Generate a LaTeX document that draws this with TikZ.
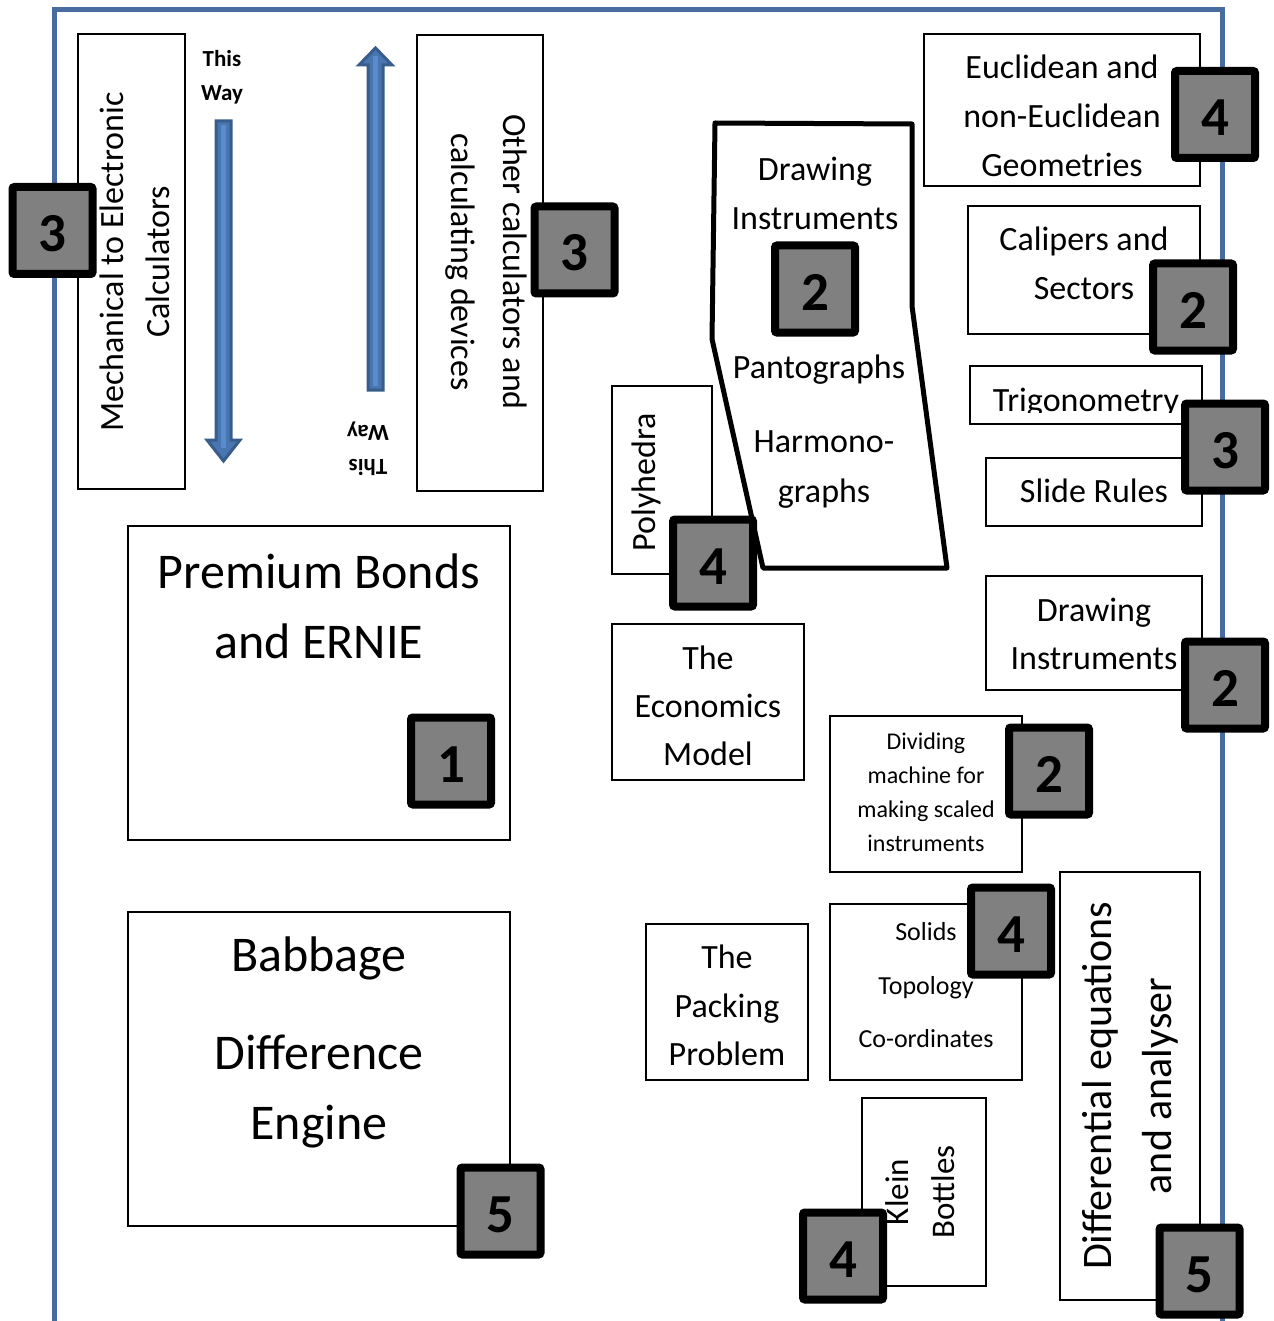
\documentclass[tikz,border=0pt]{standalone}
\usepackage{fontspec}
\setmainfont{Carlito}
\definecolor{framecol}{RGB}{72,108,160}
\definecolor{arrowfill}{RGB}{72,118,176}
\definecolor{arrowlight}{RGB}{88,140,204}
\definecolor{arrowline}{RGB}{56,93,138}
\definecolor{badgegray}{RGB}{128,128,128}
\tikzset{
  frameline/.style={draw=framecol, line width=5pt},
  boxnode/.style={draw=black, line width=1.2pt, fill=white, inner sep=0pt},
  badge/.style={draw=black, fill=badgegray, line width=8pt, rounded corners=2pt,
    minimum width=80pt, minimum height=87pt, inner sep=0pt,
    text height=42pt, text depth=0pt,
    font=\fontsize{55}{55}\selectfont\bfseries},
  lbl/.style={align=center, inner sep=0pt},
  bluearrow/.style={fill=arrowfill, draw=arrowline, line width=3pt, line join=miter},
  arrowstripe/.style={draw=arrowlight, line width=5pt},
  polyline/.style={draw=black, line width=5pt, fill=white, line join=round}
}
\begin{document}
\begin{tikzpicture}[x=1pt,y=-1pt]
\useasboundingbox (0,0) rectangle (1273,1321);
% frame
\coordinate (fbl) at (54,1340);
\coordinate (ftl) at (54,10);
\coordinate (ftr) at (1222,10);
\coordinate (fbr) at (1222,1340);
\draw[frameline] (fbl) -- (ftl) -- (ftr) -- (fbr);

% boxes
\node[boxnode, minimum width=107pt, minimum height=455pt] (mech) at (131.5,261.5) {};
\node[boxnode, minimum width=126pt, minimum height=456pt] (other) at (480,263) {};
\node[boxnode, minimum width=382pt, minimum height=314pt] (premium) at (319,683) {};
\node[boxnode, minimum width=382pt, minimum height=314pt] (babbage) at (319,1069) {};
\node[boxnode, minimum width=276pt, minimum height=152pt] (euclid) at (1062,110) {};
\node[boxnode, minimum width=232pt, minimum height=128pt] (calipers) at (1084,270) {};
\node[boxnode, minimum width=232pt, minimum height=58pt] (trig) at (1086,395) {};
\node[boxnode, minimum width=216pt, minimum height=68pt] (slide) at (1094,492) {};
\node[boxnode, minimum width=100pt, minimum height=188pt] (polyh) at (662,480) {};
\node[boxnode, minimum width=192pt, minimum height=156pt] (econ) at (708,702) {};
\node[boxnode, minimum width=216pt, minimum height=114pt] (draw2) at (1094,633) {};
\node[boxnode, minimum width=192pt, minimum height=156pt] (divid) at (926,794) {};
\node[boxnode, minimum width=162pt, minimum height=156pt] (packing) at (727,1002) {};
\node[boxnode, minimum width=192pt, minimum height=176pt] (solids) at (926,992) {};
\node[boxnode, minimum width=124pt, minimum height=188pt] (klein) at (924,1192) {};
\node[boxnode, minimum width=140pt, minimum height=428pt] (diff) at (1130,1086) {};

% drawing instruments polygon
\coordinate (p1) at (715,123);
\coordinate (p2) at (912,124);
\coordinate (p3) at (912,306);
\coordinate (p4) at (947,568);
\coordinate (p5) at (763,568);
\coordinate (p6) at (712,339);
\draw[polyline] (p1) -- (p2) -- (p3) -- (p4) -- (p5) -- (p6) -- cycle;

% arrows
\draw[bluearrow] (216,121) -- (231,121) -- (231,440) -- (240,440) -- (223.5,461) -- (207,440) -- (216,440) -- cycle;
\draw[arrowstripe] (223.5,125) -- (223.5,448);
\draw[bluearrow] (368,390) -- (383,390) -- (383,65) -- (392,65) -- (375.5,48) -- (359,65) -- (368,65) -- cycle;
\draw[arrowstripe] (375.5,386) -- (375.5,56);

% badges
\node[badge] (b3a) at (52.5,230.5) {3};
\node[badge] (b3b) at (574.5,250) {3};
\node[badge] (b1) at (451,761) {1};
\node[badge] (b5a) at (500.5,1211) {5};
\node[badge] (b2poly) at (815,289) {2};
\node[badge] (b4euc) at (1215,114.5) {4};
\node[badge] (b2cal) at (1193,307) {2};
\node[badge] (b3trig) at (1225,447) {3};
\node[badge] (b4poly) at (713,563) {4};
\node[badge] (b2draw) at (1225,685) {2};
\node[badge] (b2div) at (1049,771) {2};
\node[badge] (b4sol) at (1011,931) {4};
\node[badge] (b4klein) at (843,1256) {4};
\node[badge] (b5diff) at (1199.5,1271) {5};

% texts
\node[lbl, rotate=90, font=\fontsize{34}{46}\selectfont] (tmech) at (135,262) {Mechanical to Electronic\\Calculators};
\node[lbl, rotate=-90, font=\fontsize{34}{52}\selectfont] (tother) at (486,262) {Other calculators and\\calculating devices};
\node[lbl, font=\fontsize{23}{34}\selectfont\bfseries] (tway1) at (222,77) {This\\Way};
\node[lbl, rotate=180, font=\fontsize{23}{34}\selectfont\bfseries] (tway2) at (368,449) {This\\Way};
\node[lbl, font=\fontsize{50}{70}\selectfont] (tprem) at (319,606) {Premium Bonds\\and ERNIE};
\node[lbl, font=\fontsize{50}{70}\selectfont] (tbab) at (319,1042) {Babbage\\[28pt]Difference\\Engine};
\node[lbl, font=\fontsize{34}{49}\selectfont] (tdi) at (815,193) {Drawing\\Instruments};
\node[lbl, font=\fontsize{34}{49}\selectfont] (tpan) at (819,370) {Pantographs};
\node[lbl, font=\fontsize{34}{50}\selectfont] (tharm) at (824,470) {Harmono-\\graphs};
\node[lbl, font=\fontsize{34}{49}\selectfont] (teuc) at (1062,115.5) {Euclidean and\\non-Euclidean\\Geometries};
\node[lbl, font=\fontsize{34}{49}\selectfont] (tcal) at (1084,263) {Calipers and\\Sectors};
\begin{scope}
\clip (970,366) rectangle (1202,412);
\node[lbl, font=\fontsize{34}{49}\selectfont] (ttrig) at (1086,403) {Trigonometry};
\end{scope}
\node[lbl, font=\fontsize{34}{49}\selectfont] (tslide) at (1094,491) {Slide Rules};
\node[lbl, rotate=90, font=\fontsize{34}{49}\selectfont] (tpoly) at (646,482) {Polyhedra};
\node[lbl, font=\fontsize{34}{48}\selectfont] (tecon) at (708,705.5) {The\\Economics\\Model};
\node[lbl, font=\fontsize{34}{48}\selectfont] (tdraw2) at (1094,634) {Drawing\\Instruments};
\node[lbl, font=\fontsize{24}{34}\selectfont] (tdiv) at (926,792) {Dividing\\machine for\\making scaled\\instruments};
\node[lbl, font=\fontsize{34}{48.5}\selectfont] (tpack) at (727,1005.5) {The\\Packing\\Problem};
\node[lbl, font=\fontsize{26}{53.5}\selectfont] (tsol) at (926,985.5) {Solids\\Topology\\Co-ordinates};
\node[lbl, rotate=90, font=\fontsize{33}{46}\selectfont] (tklein) at (920,1192) {Klein\\Bottles};
\node[lbl, rotate=90, font=\fontsize{42}{60}\selectfont] (tdiff) at (1130,1086) {Differential equations\\and analyser};
\end{tikzpicture}
\end{document}
